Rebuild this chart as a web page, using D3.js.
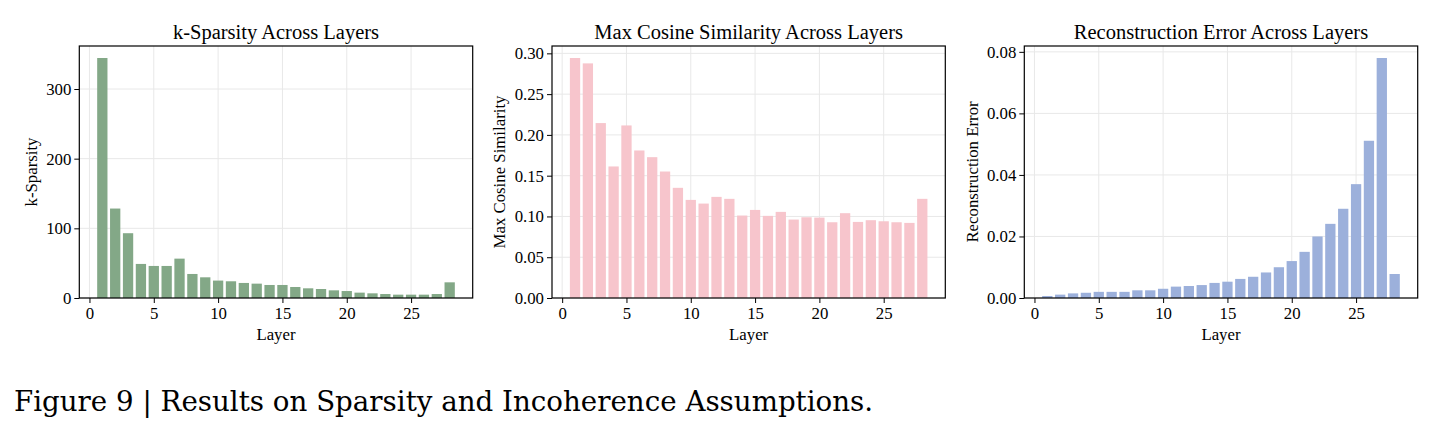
<!DOCTYPE html>
<html><head><meta charset="utf-8">
<script src="https://cdn.jsdelivr.net/npm/d3@7"></script>
<style>
html,body{margin:0;padding:0;background:#fff;}
svg text{font-family:"Liberation Serif","Times New Roman",serif;fill:#000;}
</style></head>
<body>
<svg id="chart" width="1439" height="434"></svg>
<script>
const layers = d3.range(1, 29);
const kSparsity = [344.5,128.4,93,48.9,46,46,56.5,34.5,29.7,25,24,21.6,20.6,18.7,18.7,15.8,13.9,12.9,11,10,7.7,6.7,5.7,4.8,4.8,4.8,5.7,22.5];
const maxCosine = [0.2943,0.2877,0.2145,0.1613,0.2116,0.1809,0.1727,0.1551,0.1351,0.1203,0.1158,0.124,0.1216,0.1011,0.108,0.1007,0.1056,0.0962,0.099,0.0986,0.0929,0.104,0.0933,0.0954,0.0941,0.0929,0.0921,0.1216];
const reconError = [0.00065,0.0011,0.0015,0.0017,0.002,0.002,0.002,0.0025,0.0025,0.003,0.0037,0.0039,0.0042,0.0049,0.0053,0.0062,0.0069,0.0083,0.01,0.012,0.015,0.02,0.0241,0.029,0.037,0.0511,0.078,0.0078];
const xTicks = [0,5,10,15,20,25];
const yTicksK = [0,100,200,300];
const yTicksCos = [0,0.05,0.10,0.15,0.20,0.25,0.30];
const yTicksErr = [0,0.02,0.04,0.06,0.08];
const titles = ["k-Sparsity Across Layers","Max Cosine Similarity Across Layers","Reconstruction Error Across Layers"];
const yLabels = ["k-Sparsity","Max Cosine Similarity","Reconstruction Error"];
const xLabel = "Layer";
const caption = "Figure 9 | Results on Sparsity and Incoherence Assumptions.";

const svg = d3.select("#chart");
const panels = [
  {vals:kSparsity, ticks:yTicksK, fmt:d3.format("d"), left:79.3, right:472.7, color:"#83a887", ylabX:31},
  {vals:maxCosine, ticks:yTicksCos, fmt:d3.format(".2f"), left:552, right:945.3, color:"#f7c5cc", ylabX:499},
  {vals:reconError, ticks:yTicksErr, fmt:d3.format(".2f"), left:1024.3, right:1417.7, color:"#9cb0db", ylabX:972}
];
const axTop = 46, axBottom = 298;

panels.forEach((p, i) => {
  const g = svg.append("g");
  const bw = 0.8;
  const lo = 1 - bw/2, hi = 28 + bw/2, m = (hi - lo) * 0.05;
  const x = d3.scaleLinear().domain([lo - m, hi + m]).range([p.left, p.right]);
  const ymax = d3.max(p.vals) * 1.05;
  const y = d3.scaleLinear().domain([0, ymax]).range([axBottom, axTop]);

  g.append("g").selectAll("line").data(xTicks).join("line")
    .attr("x1", d => x(d)).attr("x2", d => x(d)).attr("y1", axTop).attr("y2", axBottom)
    .attr("stroke", "#e8e8e8").attr("stroke-width", 1);
  g.append("g").selectAll("line").data(p.ticks).join("line")
    .attr("x1", p.left).attr("x2", p.right).attr("y1", d => y(d)).attr("y2", d => y(d))
    .attr("stroke", "#e8e8e8").attr("stroke-width", 1);

  g.append("g").selectAll("rect").data(p.vals).join("rect")
    .attr("x", (d, j) => x(layers[j] - bw/2))
    .attr("width", (d, j) => x(layers[j] + bw/2) - x(layers[j] - bw/2))
    .attr("y", d => y(d))
    .attr("height", d => y(0) - y(d))
    .attr("fill", p.color);

  const xa = g.append("g").attr("transform", `translate(0,${axBottom})`)
    .call(d3.axisBottom(x).tickValues(xTicks).tickSize(5).tickPadding(4).tickFormat(d3.format("d")));
  const ya = g.append("g").attr("transform", `translate(${p.left},0)`)
    .call(d3.axisLeft(y).tickValues(p.ticks).tickSize(5).tickPadding(3).tickFormat(p.fmt));
  [xa, ya].forEach(a => {
    a.select(".domain").remove();
    a.selectAll("text").style("font-size", "16.8px").attr("fill", "#000");
    a.selectAll("line").attr("stroke", "#000").attr("stroke-width", 1);
  });
  g.append("rect").attr("x", p.left).attr("y", axTop).attr("width", p.right - p.left).attr("height", axBottom - axTop)
    .attr("fill", "none").attr("stroke", "#000").attr("stroke-width", 1.2);

  g.append("text").attr("x", (p.left + p.right)/2).attr("y", 39).attr("text-anchor", "middle")
    .style("font-size", "20.5px").text(titles[i]);
  g.append("text").attr("x", (p.left + p.right)/2).attr("y", 340).attr("text-anchor", "middle")
    .style("font-size", "16.8px").text(xLabel);
  g.append("text").attr("transform", `translate(${p.ylabX},${(axTop+axBottom)/2}) rotate(-90)`)
    .attr("text-anchor", "middle").attr("dy", "0.35em")
    .style("font-size", "16.8px").text(yLabels[i]);
});

svg.append("text").attr("x", 14).attr("y", 411).style("font-size", "27.7px")
  .style("font-family", "'DejaVu Serif', serif").text(caption);
</script>
</body></html>
